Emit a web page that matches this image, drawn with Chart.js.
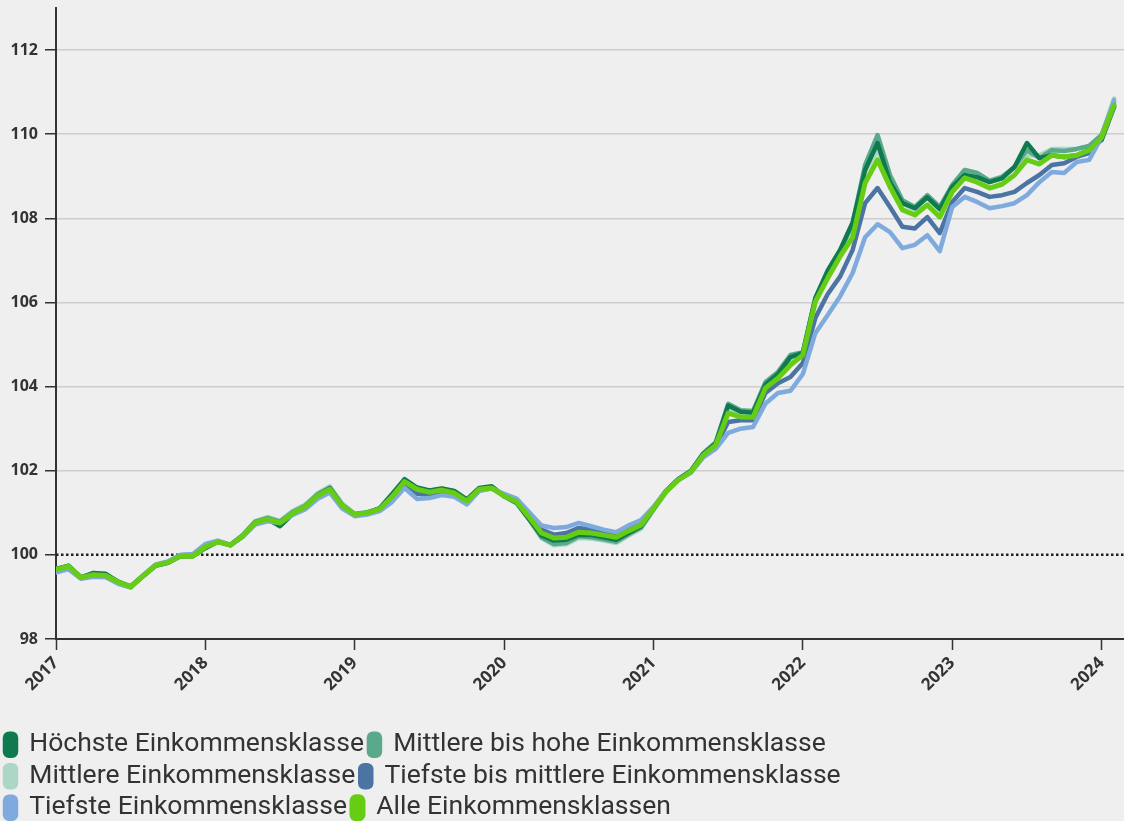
<!DOCTYPE html>
<html>
<head>
<meta charset="utf-8">
<script src="https://cdn.jsdelivr.net/npm/chart.js@4.4.1/dist/chart.umd.min.js"></script>
<style>
  html, body { margin: 0; padding: 0; background: #efefef; }
  #wrap { width: 1124px; height: 821px; position: relative; }
</style>
</head>
<body>
<div id="wrap"><canvas id="c"></canvas></div>
<script>
// Monthly categories (Jan 2017 – Feb 2024)
const months = [
  '2017-01','2017-02','2017-03','2017-04','2017-05','2017-06','2017-07','2017-08','2017-09','2017-10','2017-11','2017-12',
  '2018-01','2018-02','2018-03','2018-04','2018-05','2018-06','2018-07','2018-08','2018-09','2018-10','2018-11','2018-12',
  '2019-01','2019-02','2019-03','2019-04','2019-05','2019-06','2019-07','2019-08','2019-09','2019-10','2019-11','2019-12',
  '2020-01','2020-02','2020-03','2020-04','2020-05','2020-06','2020-07','2020-08','2020-09','2020-10','2020-11','2020-12',
  '2021-01','2021-02','2021-03','2021-04','2021-05','2021-06','2021-07','2021-08','2021-09','2021-10','2021-11','2021-12',
  '2022-01','2022-02','2022-03','2022-04','2022-05','2022-06','2022-07','2022-08','2022-09','2022-10','2022-11','2022-12',
  '2023-01','2023-02','2023-03','2023-04','2023-05','2023-06','2023-07','2023-08','2023-09','2023-10','2023-11','2023-12',
  '2024-01','2024-02'
];
const yearTicks = ['2017','2018','2019','2020','2021','2022','2023','2024'];
const yTicks = [98, 100, 102, 104, 106, 108, 110, 112];

const hoechste = [
  99.66, 99.74, 99.46, 99.57, 99.55, 99.36, 99.24, 99.49, 99.74, 99.81, 99.97, 99.97,
  100.16, 100.31, 100.23, 100.44, 100.76, 100.85, 100.68, 100.97, 101.13, 101.40, 101.58, 101.17,
  100.96, 101.00, 101.11, 101.45, 101.80, 101.60, 101.53, 101.58, 101.52, 101.32, 101.59, 101.63,
  101.40, 101.24, 100.85, 100.46, 100.34, 100.36, 100.48, 100.47, 100.42, 100.36, 100.52, 100.68,
  101.10, 101.52, 101.80, 101.99, 102.40, 102.65, 103.55, 103.40, 103.38, 104.05, 104.30, 104.70,
  104.80, 106.10, 106.75, 107.25, 107.90, 109.15, 109.79, 108.86, 108.36, 108.24, 108.50, 108.22,
  108.75, 109.03, 108.98, 108.86, 108.95, 109.22, 109.79, 109.43, 109.50, 109.46, 109.50, 109.62,
  109.86, 110.65
];
const mittelHoch = [
  99.66, 99.74, 99.47, 99.54, 99.52, 99.36, 99.25, 99.51, 99.76, 99.83, 99.98, 99.98,
  100.19, 100.32, 100.24, 100.47, 100.79, 100.88, 100.79, 101.02, 101.17, 101.44, 101.60, 101.19,
  100.97, 101.01, 101.10, 101.42, 101.78, 101.59, 101.52, 101.57, 101.50, 101.30, 101.57, 101.60,
  101.40, 101.24, 100.86, 100.42, 100.26, 100.28, 100.44, 100.42, 100.37, 100.31, 100.49, 100.65,
  101.08, 101.50, 101.80, 102.00, 102.42, 102.68, 103.59, 103.44, 103.42, 104.11, 104.35, 104.75,
  104.82, 106.10, 106.77, 107.25, 107.89, 109.27, 109.98, 109.03, 108.43, 108.27, 108.55, 108.27,
  108.79, 109.15, 109.08, 108.89, 108.98, 109.22, 109.62, 109.43, 109.62, 109.60, 109.65, 109.72,
  109.98, 110.76
];
const mittlere = [
  99.67, 99.75, 99.48, 99.54, 99.52, 99.37, 99.26, 99.52, 99.77, 99.85, 99.99, 99.99,
  100.19, 100.32, 100.24, 100.47, 100.80, 100.90, 100.81, 101.04, 101.19, 101.46, 101.63, 101.22,
  100.98, 101.02, 101.10, 101.40, 101.76, 101.57, 101.50, 101.55, 101.48, 101.29, 101.56, 101.59,
  101.38, 101.22, 100.84, 100.40, 100.23, 100.25, 100.40, 100.39, 100.34, 100.28, 100.46, 100.62,
  101.06, 101.48, 101.78, 101.98, 102.39, 102.64, 103.45, 103.36, 103.34, 104.04, 104.28, 104.62,
  104.80, 106.08, 106.70, 107.20, 107.80, 109.10, 109.62, 108.90, 108.35, 108.20, 108.50, 108.20,
  108.80, 109.15, 109.08, 108.90, 109.00, 109.20, 109.50, 109.50, 109.65, 109.65, 109.65, 109.72,
  109.98, 110.85
];
const tiefMittel = [
  99.62, 99.71, 99.45, 99.50, 99.49, 99.34, 99.24, 99.50, 99.75, 99.82, 99.97, 99.98,
  100.22, 100.32, 100.23, 100.44, 100.74, 100.82, 100.76, 100.96, 101.10, 101.36, 101.52, 101.14,
  100.94, 100.98, 101.06, 101.32, 101.66, 101.45, 101.42, 101.48, 101.42, 101.24, 101.54, 101.58,
  101.42, 101.30, 100.95, 100.60, 100.48, 100.52, 100.64, 100.60, 100.54, 100.49, 100.64, 100.78,
  101.12, 101.52, 101.80, 101.98, 102.36, 102.58, 103.16, 103.20, 103.20, 103.85, 104.08, 104.23,
  104.56, 105.63, 106.20, 106.62, 107.25, 108.36, 108.72, 108.27, 107.80, 107.76, 108.03, 107.65,
  108.39, 108.72, 108.63, 108.51, 108.55, 108.63, 108.84, 109.03, 109.27, 109.31, 109.46, 109.55,
  109.91, 110.65
];
const tiefste = [
  99.58, 99.66, 99.43, 99.48, 99.47, 99.31, 99.22, 99.50, 99.76, 99.84, 100.00, 100.02,
  100.26, 100.34, 100.24, 100.43, 100.72, 100.80, 100.76, 100.95, 101.08, 101.33, 101.48, 101.10,
  100.92, 100.96, 101.04, 101.26, 101.59, 101.33, 101.35, 101.42, 101.38, 101.20, 101.52, 101.58,
  101.45, 101.34, 101.02, 100.70, 100.64, 100.66, 100.76, 100.68, 100.60, 100.54, 100.70, 100.83,
  101.14, 101.52, 101.78, 101.95, 102.32, 102.52, 102.90, 103.00, 103.04, 103.60, 103.85, 103.90,
  104.30, 105.27, 105.70, 106.15, 106.70, 107.55, 107.86, 107.67, 107.29, 107.37, 107.60, 107.22,
  108.27, 108.51, 108.39, 108.24, 108.29, 108.36, 108.55, 108.86, 109.10, 109.08, 109.34, 109.39,
  109.93, 110.81
];
const alle = [
  99.65, 99.73, 99.46, 99.53, 99.51, 99.35, 99.24, 99.50, 99.75, 99.82, 99.97, 99.97,
  100.19, 100.31, 100.23, 100.45, 100.76, 100.85, 100.76, 100.99, 101.14, 101.40, 101.56, 101.17,
  100.96, 101.00, 101.09, 101.38, 101.74, 101.56, 101.49, 101.54, 101.47, 101.28, 101.56, 101.59,
  101.40, 101.26, 100.90, 100.52, 100.40, 100.42, 100.54, 100.52, 100.47, 100.42, 100.57, 100.71,
  101.10, 101.50, 101.78, 101.97, 102.37, 102.61, 103.37, 103.28, 103.27, 103.97, 104.20, 104.51,
  104.75, 106.02, 106.58, 107.10, 107.55, 108.84, 109.39, 108.75, 108.20, 108.08, 108.32, 108.03,
  108.63, 108.96, 108.86, 108.72, 108.81, 109.03, 109.39, 109.29, 109.50, 109.46, 109.50, 109.62,
  109.93, 110.69
];

const seriesNames = [
  'Höchste Einkommensklasse',
  'Mittlere bis hohe Einkommensklasse',
  'Mittlere Einkommensklasse',
  'Tiefste bis mittlere Einkommensklasse',
  'Tiefste Einkommensklasse',
  'Alle Einkommensklassen'
];
const seriesColors = ['#0f7a4e', '#5aa98b', '#acd7c6', '#4b74a3', '#7eaadd', '#66cc14'];
const seriesData = [hoechste, mittelHoch, mittlere, tiefMittel, tiefste, alle];
const seriesOrder = [3, 4, 5, 2, 1, 0];
const seriesWidth = [4.5, 4.5, 4.5, 4.5, 4.5, 5];

function toYear(m) {
  const [y, mo] = m.split('-').map(Number);
  return y + (mo - 1) / 12;
}

const datasets = seriesNames.map((name, k) => ({
  label: name,
  data: seriesData[k].map((v, i) => ({ x: toYear(months[i]), y: v })),
  borderColor: seriesColors[k],
  backgroundColor: seriesColors[k],
  borderWidth: seriesWidth[k],
  pointRadius: 0,
  pointHoverRadius: 0,
  tension: 0,
  fill: false,
  order: seriesOrder[k],
  borderJoinStyle: 'round',
  borderCapStyle: 'round'
}));

const refLine = {
  id: 'refLine',
  beforeDatasetsDraw(chart) {
    const { ctx, chartArea, scales } = chart;
    const y = scales.y.getPixelForValue(100);
    ctx.save();
    ctx.strokeStyle = '#222';
    ctx.lineWidth = 2.5;
    ctx.setLineDash([2.5, 2.5]);
    ctx.beginPath();
    ctx.moveTo(chartArea.left, y);
    ctx.lineTo(chartArea.right, y);
    ctx.stroke();
    ctx.restore();
  }
};

new Chart(document.getElementById('c'), {
  type: 'line',
  data: { datasets },
  plugins: [refLine],
  options: {
    responsive: true,
    maintainAspectRatio: false,
    animation: false,
    layout: { padding: { top: 8, right: 0, left: 0, bottom: -10 } },
    plugins: {
      tooltip: { enabled: false },
      legend: {
        position: 'bottom',
        align: 'start',
        labels: {
          color: '#333',
          font: { family: 'Roboto', size: 26.5, weight: 'normal' },
          boxWidth: 11,
          boxHeight: 22,
          useBorderRadius: true,
          borderRadius: 4,
          padding: 5,
          sort: (a, b) => a.datasetIndex - b.datasetIndex
        }
      }
    },
    scales: {
      x: {
        type: 'linear',
        min: 2017,
        max: 2024.15,
        afterBuildTicks: (s) => { s.ticks = yearTicks.map(v => ({ value: Number(v) })); },
        afterFit: (s) => { s.height = 87.5; },
        ticks: {
          color: '#333',
          font: { family: 'Open Sans', size: 17, weight: 'bold' },
          minRotation: 45,
          maxRotation: 45,
          padding: 3,
          callback: (v) => String(v)
        },
        grid: { drawOnChartArea: false, drawTicks: true, tickLength: 11, tickColor: '#333', tickWidth: 1.5 },
        border: { color: '#333', width: 2 }
      },
      y: {
        min: 98,
        max: 113,
        afterBuildTicks: (s) => { s.ticks = yTicks.map(v => ({ value: v })); },
        afterFit: (s) => { s.width = 56; s.paddingTop = 0; s.paddingBottom = 0; },
        ticks: {
          color: '#333',
          font: { family: 'Open Sans', size: 16, weight: 'bold' },
          padding: 7,
          callback: (v) => String(v)
        },
        grid: {
          color: (c) => (c.tick && (c.tick.value === 100 || c.tick.value === 98)) ? 'rgba(0,0,0,0)' : '#cdcdcd',
          lineWidth: 1.5,
          tickLength: 11,
          tickColor: '#333',
          tickWidth: 1.5
        },
        border: { color: '#333', width: 2 }
      }
    }
  }
});
</script>
</body>
</html>
